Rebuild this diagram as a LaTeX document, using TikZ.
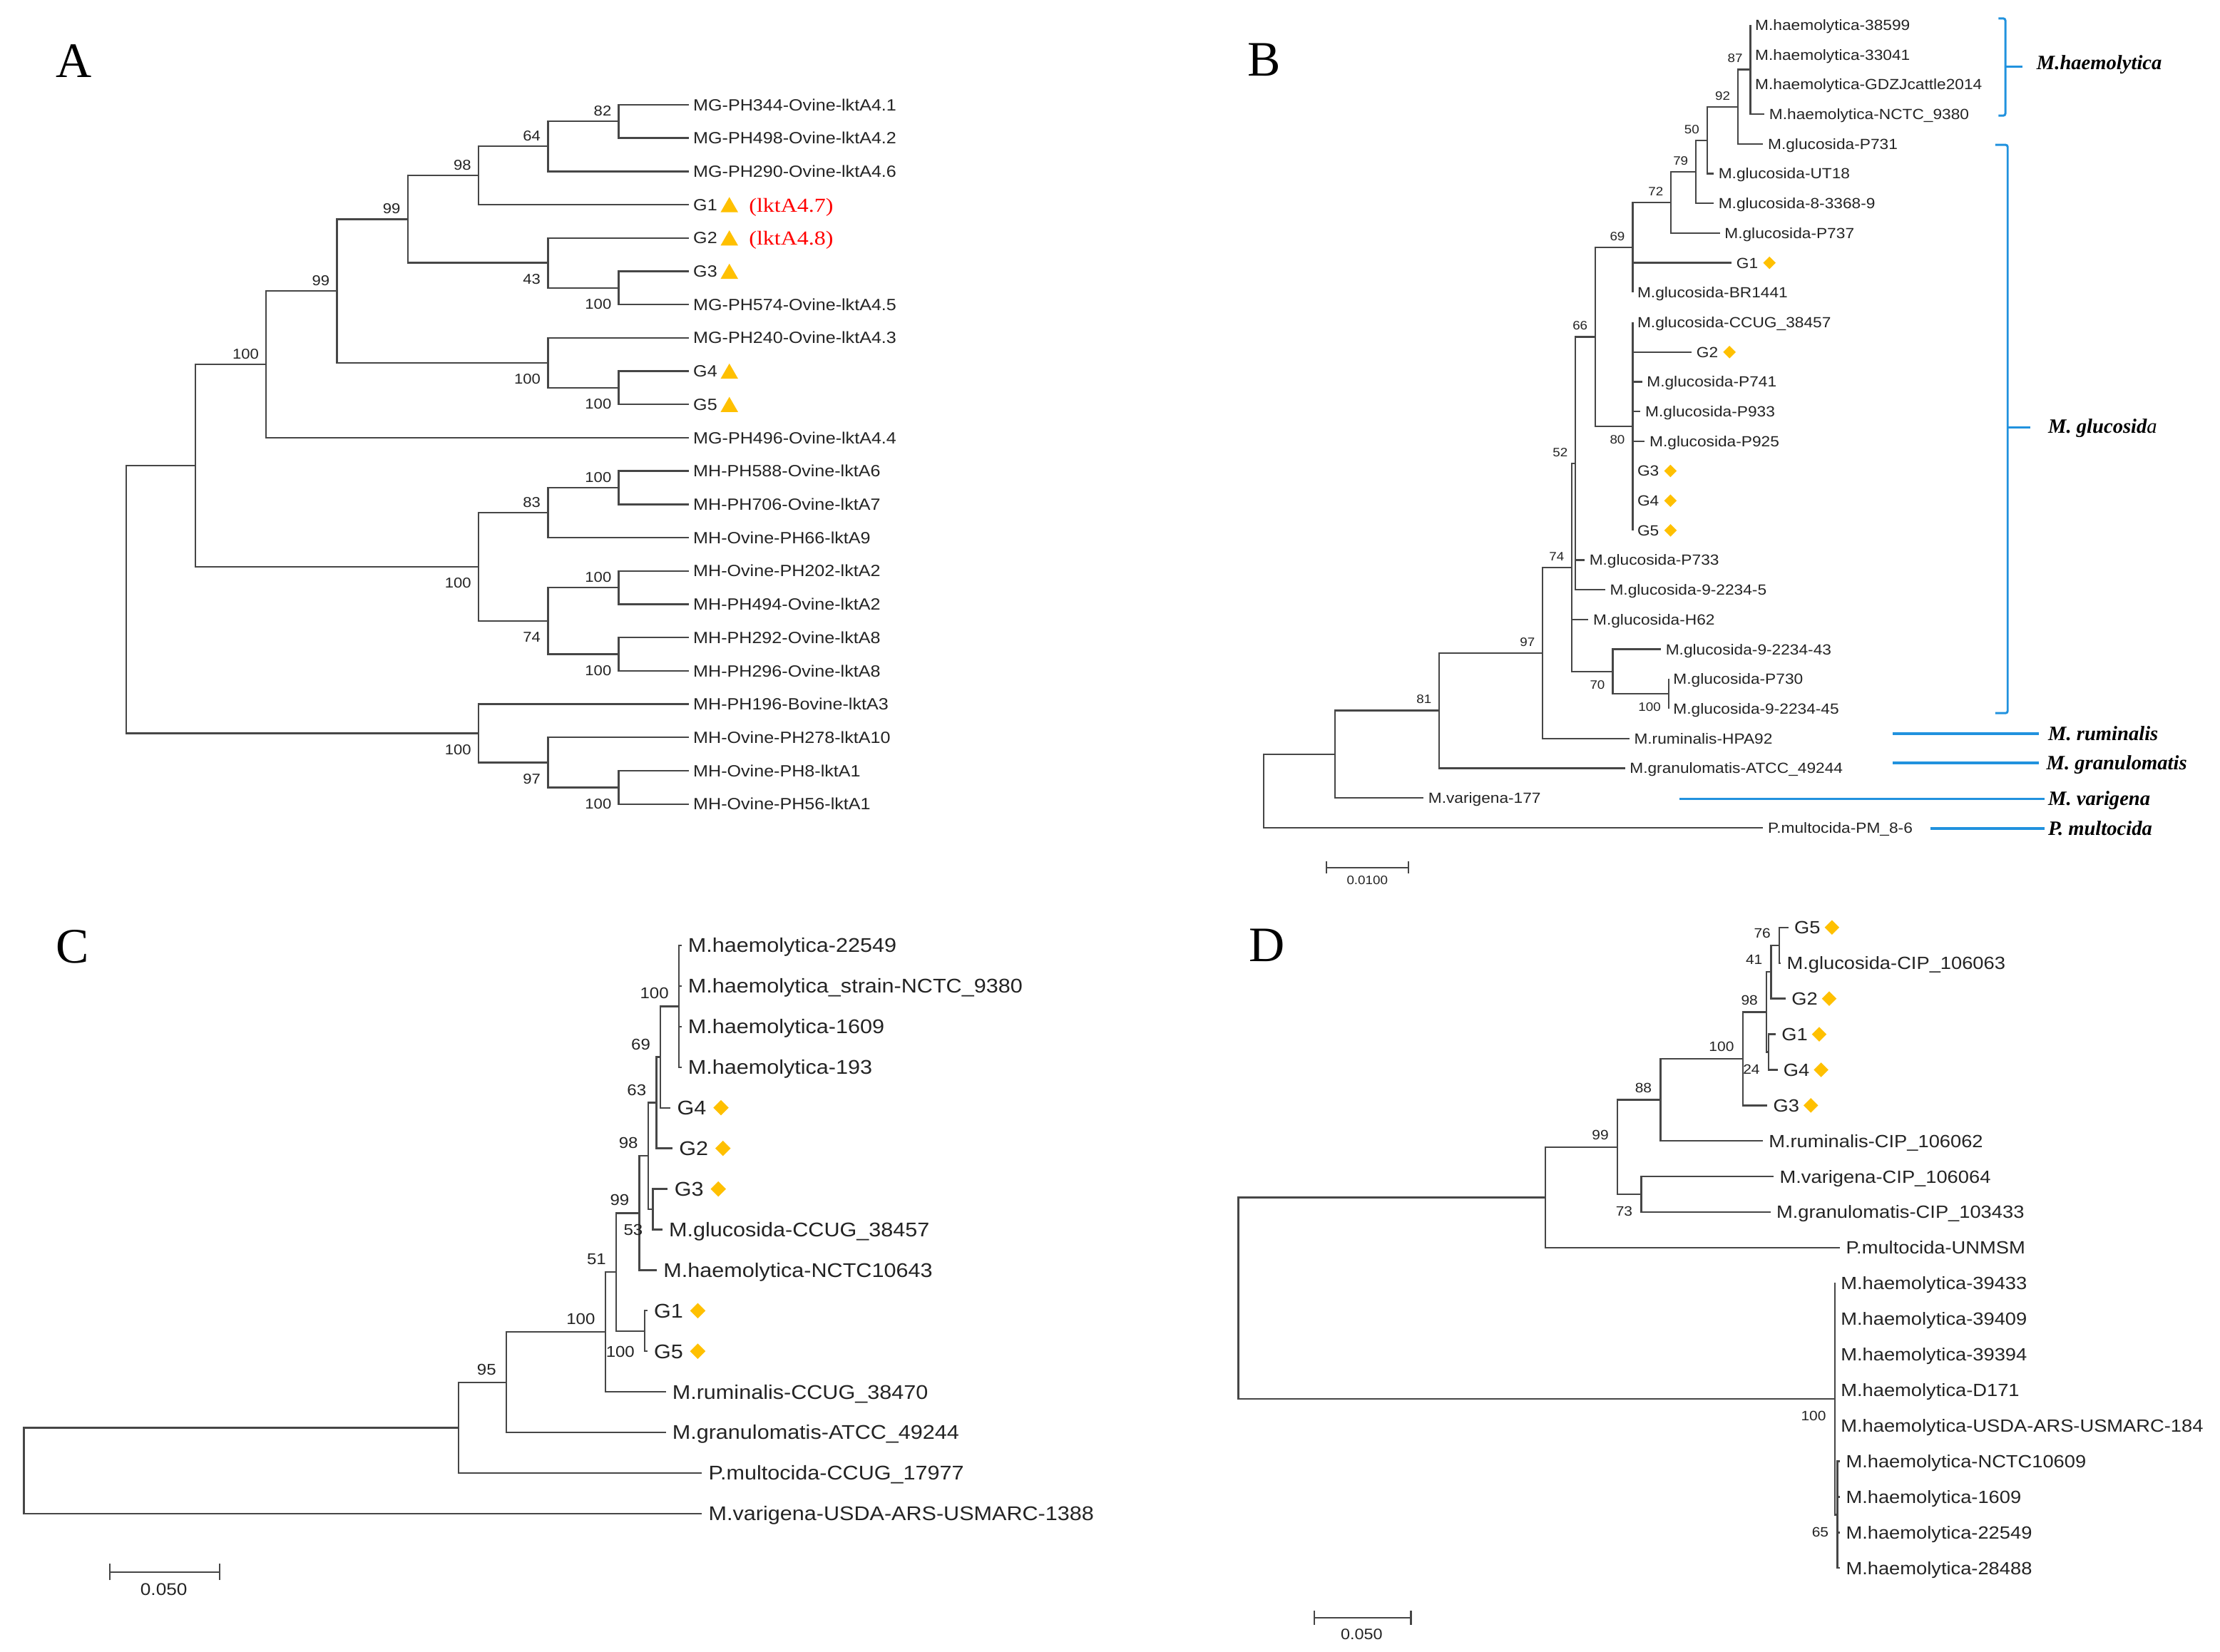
\documentclass[tikz,border=0pt]{standalone}
\usepackage{fontspec}
\setmainfont{Liberation Serif}
\newfontfamily\treefont[FakeStretch=1.1]{Liberation Sans}
\newfontfamily\tagfont[FakeStretch=1.15]{Liberation Serif}
\usetikzlibrary{positioning,shapes.geometric,arrows.meta}

\definecolor{branch}{RGB}{70,70,70}
\definecolor{ink}{RGB}{35,35,35}
\definecolor{gold}{RGB}{255,192,0}
\definecolor{cladeblue}{RGB}{33,146,222}
\newcommand{\fsz}[1]{\fontsize{#1}{#1}\selectfont}

\tikzset{
    br/.style={draw=branch, line width=1.2pt},
    tiplbl/.style={anchor=west, text=ink, inner ysep=0pt, text depth=0pt},
    tipA/.style={tiplbl, font=\treefont\fsz{11.5}, inner xsep=3pt, text height=8.2pt},
    tipB/.style={tiplbl, font=\treefont\fsz{10.4}, inner xsep=3.2pt, text height=7.4pt},
    tipC/.style={tiplbl, font=\treefont\fsz{14}, inner xsep=4.5pt, text height=10pt},
    tipD/.style={tiplbl, font=\treefont\fsz{12.5}, inner xsep=4pt, text height=8.95pt},
    boot/.style={anchor=base east, text=ink, inner sep=0pt},
    Ahi/.style={boot, font=\treefont\fsz{10.1}, xshift=-5pt, yshift=3.9pt},
    Alo/.style={boot, font=\treefont\fsz{10.1}, xshift=-5pt, yshift=-15.1pt},
    Bhi/.style={boot, font=\treefont\fsz{8.6}, xshift=-5.3pt, yshift=4.9pt},
    Blo/.style={boot, font=\treefont\fsz{8.6}, xshift=-5.3pt, yshift=-12.4pt},
    Chi/.style={boot, font=\treefont\fsz{11}, xshift=-7pt, yshift=5.25pt},
    Clo/.style={boot, font=\treefont\fsz{11}, xshift=-7pt, yshift=-18.45pt},
    Dhi/.style={boot, font=\treefont\fsz{9.6}, xshift=-6pt, yshift=5.15pt},
    Dlo/.style={boot, font=\treefont\fsz{9.6}, xshift=-6pt, yshift=-15.45pt},
    tri/.style={regular polygon, regular polygon sides=3, fill=gold, inner sep=0pt, minimum size=14.3pt, yshift=-1.8pt},
    gem/.style={diamond, fill=gold, inner sep=0pt, minimum width=#1, minimum height=#1},
    redtag/.style={font=\tagfont\fsz{14}, text=red, inner sep=0pt},
    panelmark/.style={font=\fsz{35}, inner sep=0pt},
    species/.style={anchor=west, font=\bfseries\itshape\fsz{14.4}, inner ysep=0pt, text height=9.5pt, text depth=0pt},
    clade/.style={draw=cladeblue, line width=1.5pt},
    cladeline/.style={draw=cladeblue, line width=1.9pt},
    scalebar/.style={br, {Bar[width=#1]}-{Bar[width=#1]}},
    scaletext/.style={text=ink, inner sep=0pt}
}

\begin{document}
\begin{tikzpicture}[x=1pt, y=-1pt]
    \useasboundingbox (0,0) rectangle (1568,1167);

    \node[panelmark] (pA) at (52,43) {A};
    \node[panelmark] (pB) at (893,42) {B};
    \node[panelmark] (pC) at (51,669) {C};
    \node[panelmark] (pD) at (895,668) {D};

    \foreach \id/\lbl in {1/MG-PH344-Ovine-lktA4.1, 2/MG-PH498-Ovine-lktA4.2, 3/MG-PH290-Ovine-lktA4.6,
            4/G1, 5/G2, 6/G3, 7/MG-PH574-Ovine-lktA4.5, 8/MG-PH240-Ovine-lktA4.3, 9/G4, 10/G5,
            11/MG-PH496-Ovine-lktA4.4, 12/MH-PH588-Ovine-lktA6, 13/MH-PH706-Ovine-lktA7,
            14/MH-Ovine-PH66-lktA9, 15/MH-Ovine-PH202-lktA2, 16/MH-PH494-Ovine-lktA2,
            17/MH-PH292-Ovine-lktA8, 18/MH-PH296-Ovine-lktA8, 19/MH-PH196-Bovine-lktA3,
            20/MH-Ovine-PH278-lktA10, 21/MH-Ovine-PH8-lktA1, 22/MH-Ovine-PH56-lktA1}
        \node[tipA] (a\id) at (486.5,{74+23.524*(\id-1)}) {\lbl};

    \coordinate (naroot) at (89,423.45);
    \coordinate (na1) at (138,328.9);
    \coordinate (na100d) at (188,257.4);
    \coordinate (na99l) at (238,205.6);
    \coordinate (na99u) at (288,154.85);
    \coordinate (na98) at (338,124.0);
    \coordinate (na64) at (387,103.4);
    \coordinate (na82) at (437,85.75);
    \coordinate (na43) at (387,185.7);
    \coordinate (na100a) at (437,203.35);
    \coordinate (na100c) at (387,256.3);
    \coordinate (na100b) at (437,273.95);
    \coordinate (na100h) at (338,400.4);
    \coordinate (na83) at (387,362.2);
    \coordinate (na100e) at (437,344.55);
    \coordinate (na74) at (387,438.6);
    \coordinate (na100f) at (437,415.1);
    \coordinate (na100g) at (437,462.15);
    \coordinate (na100j) at (338,518.0);
    \coordinate (na97) at (387,538.6);
    \coordinate (na100i) at (437,556.25);

    \foreach \pa/\ch in {naroot/na1, naroot/na100j, na1/na100d, na1/na100h,
            na100d/na99l, na100d/a11.west, na99l/na99u, na99l/na100c,
            na99u/na98, na99u/na43, na98/na64, na98/a4.west, na64/na82, na64/a3.west,
            na82/a1.west, na82/a2.west, na43/a5.west, na43/na100a,
            na100a/a6.west, na100a/a7.west, na100c/a8.west, na100c/na100b,
            na100b/a9.west, na100b/a10.west, na100h/na83, na100h/na74,
            na83/na100e, na83/a14.west, na100e/a12.west, na100e/a13.west,
            na74/na100f, na74/na100g, na100f/a15.west, na100f/a16.west,
            na100g/a17.west, na100g/a18.west, na100j/a19.west, na100j/na97,
            na97/a20.west, na97/na100i, na100i/a21.west, na100i/a22.west}
        \draw[br] (\pa) |- (\ch);

    \foreach \pa/\val/\sty in {na82/82/Ahi, na64/64/Ahi, na98/98/Ahi, na99u/99/Ahi, na99l/99/Ahi,
            na100d/100/Ahi, na43/43/Alo, na100a/100/Alo, na100c/100/Alo, na100b/100/Alo,
            na83/83/Ahi, na100e/100/Ahi, na100h/100/Alo, na74/74/Alo, na100f/100/Ahi,
            na100g/100/Alo, na100j/100/Alo, na97/97/Alo, na100i/100/Alo}
        \node[\sty] (s\pa) at (\pa) {\val};

    \foreach \gname in {a4,a5,a6,a9,a10}
        \node[tri, right=1pt of \gname] (\gname t) {};
    \node[redtag, right=9.4pt of a4t] (a4r) {(lktA4.7)};
    \node[redtag, right=9.4pt of a5t] (a5r) {(lktA4.8)};

    \foreach \id/\xx/\lbl in {1/1236.3/M.haemolytica-38599, 2/1236.3/M.haemolytica-33041,
            3/1236.3/M.haemolytica-GDZJcattle2014, 4/1246.2/M.haemolytica-NCTC\_9380,
            5/1245.3/M.glucosida-P731, 6/1210.4/M.glucosida-UT18, 7/1210.4/M.glucosida-8-3368-9,
            8/1214.7/M.glucosida-P737, 9/1223/G1, 10/1153.1/M.glucosida-BR1441,
            11/1153.1/M.glucosida-CCUG\_38457, 12/1194.8/G2, 13/1159.8/M.glucosida-P741,
            14/1158.7/M.glucosida-P933, 15/1161.7/M.glucosida-P925, 16/1153.1/G3, 17/1153.1/G4,
            18/1153.1/G5, 19/1119.2/M.glucosida-P733, 20/1133.7/M.glucosida-9-2234-5,
            21/1121.9/M.glucosida-H62, 22/1173.1/M.glucosida-9-2234-43, 23/1178.5/M.glucosida-P730,
            24/1178.5/M.glucosida-9-2234-45, 25/1150.8/M.ruminalis-HPA92,
            26/1147.7/M.granulomatis-ATCC\_49244, 27/1005.4/M.varigena-177, 28/1245.3/P.multocida-PM\_8-6}
        \node[tipB] (b\id) at (\xx,{17.7+21*(\id-1)}) {\lbl};

    \coordinate (nbroot) at (892.5,558.8);
    \coordinate (nbv) at (942.9,532.85);
    \coordinate (nb81) at (1016.5,502.0);
    \coordinate (nb97) at (1089.6,461.3);
    \coordinate (nb74) at (1110.2,400.9);
    \coordinate (nb70) at (1139,474.45);
    \coordinate (nb100) at (1178.5,490.2);
    \coordinate (nb52) at (1112.8,327.4);
    \coordinate (nb66) at (1126.8,238.05);
    \coordinate (nb80) at (1153.1,301.2);
    \coordinate (nb69) at (1153.1,174.9);
    \coordinate (nb72) at (1180.2,143.05);
    \coordinate (nb79) at (1197.8,121.4);
    \coordinate (nb50) at (1205.7,99.1);
    \coordinate (nb92) at (1227.5,75.45);
    \coordinate (nb87) at (1236.3,49.2);

    \foreach \pa/\ch in {nbroot/nbv, nbroot/b28.west, nbv/nb81, nbv/b27.west,
            nb81/nb97, nb81/b26.west, nb97/nb74, nb97/b25.west,
            nb74/nb52, nb74/b21.west, nb74/nb70, nb70/b22.west, nb70/nb100,
            nb100/b23.west, nb100/b24.west, nb52/nb66, nb52/b19.west, nb52/b20.west,
            nb66/nb69, nb66/nb80, nb80/b11.west, nb80/b12.west, nb80/b13.west, nb80/b14.west,
            nb80/b15.west, nb80/b16.west, nb80/b17.west, nb80/b18.west,
            nb69/nb72, nb69/b9.west, nb69/b10.west, nb72/nb79, nb72/b8.west,
            nb79/nb50, nb79/b7.west, nb50/nb92, nb50/b6.west, nb92/nb87, nb92/b5.west,
            nb87/b1.west, nb87/b2.west, nb87/b3.west, nb87/b4.west}
        \draw[br] (\pa) |- (\ch);

    \foreach \pa/\val/\sty in {nb87/87/Bhi, nb92/92/Bhi, nb50/50/Bhi, nb79/79/Bhi, nb72/72/Bhi,
            nb69/69/Bhi, nb66/66/Bhi, nb80/80/Blo, nb52/52/Bhi, nb74/74/Bhi,
            nb70/70/Blo, nb100/100/Blo, nb97/97/Bhi, nb81/81/Bhi}
        \node[\sty] (s\pa) at (\pa) {\val};

    \foreach \gname in {b9,b12,b16,b17,b18}
        \node[gem=9pt, right=0pt of \gname] (\gname g) {};

    \draw[clade, rounded corners=1.5pt] (1411.5,13) -| (1416.4,81.7) -- (1411.5,81.7);
    \coordinate (mhb) at (1416.4,47);
    \node[species, inner xsep=10pt] (mh) at (1428.3,44.5) {M.haemolytica};
    \draw[clade] (mhb) -- (mhb -| mh.west);

    \draw[clade, rounded corners=1.5pt] (1409.3,102.3) -| (1418,503.8) -- (1409.3,503.8);
    \coordinate (mgb) at (1418,301.8);
    \node[species, inner xsep=12.3pt] (mg) at (1434.2,301) {M. glucosid\textmd{a}};
    \draw[clade] (mgb) -- (mgb -| mg.west);

    \coordinate (mrl) at (1337,518.4);
    \node[species, inner xsep=6.6pt] (mr) at (1439.9,518.4) {M. ruminalis};
    \draw[cladeline] (mrl) -- (mr.west);
    \coordinate (mgrl) at (1337,538.9);
    \node[species, inner xsep=5.3pt] (mgr) at (1439.9,538.9) {M. granulomatis};
    \draw[cladeline] (mgrl) -- (mgr.west);
    \coordinate (mvl) at (1186,564.4);
    \node[species, inner xsep=2.2pt] (mv) at (1444.3,564.4) {M. varigena};
    \draw[cladeline] (mvl) -- (mv.west);
    \coordinate (pml) at (1363.3,585.3);
    \node[species, inner xsep=2.2pt] (pm) at (1444.3,585.3) {P. multocida};
    \draw[cladeline] (pml) -- (pm.west);

    \coordinate (sbB1) at (936.3,612.9);
    \coordinate (sbB2) at (995.5,612.9);
    \draw[scalebar=8.4pt] (sbB1) -- (sbB2);
    \node[scaletext, font=\treefont\fsz{8.6}] (sbBt) at (965.7,621.8) {0.0100};

    \foreach \id/\xx/\lbl in {1/481.3/M.haemolytica-22549, 2/481.3/M.haemolytica\_strain-NCTC\_9380,
            3/481.3/M.haemolytica-1609, 4/481.3/M.haemolytica-193, 5/473.6/G4, 6/475/G2, 7/471.7/G3,
            8/467.8/M.glucosida-CCUG\_38457, 9/463.9/M.haemolytica-NCTC10643, 10/457.2/G1, 11/457.2/G5,
            12/470.2/M.ruminalis-CCUG\_38470, 13/470.2/M.granulomatis-ATCC\_49244,
            14/495.8/P.multocida-CCUG\_17977, 15/495.8/M.varigena-USDA-ARS-USMARC-1388}
        \node[tipC] (c\id) at (\xx,{667.9+28.67*(\id-1)}) {\lbl};

    \coordinate (ncroot) at (16.9,1038.9);
    \coordinate (ncn) at (323.9,1008.55);
    \coordinate (nc95) at (357.6,976.5);
    \coordinate (nc100) at (427.5,940.95);
    \coordinate (nc51) at (435.2,898.6);
    \coordinate (nc100g) at (455.4,940.25);
    \coordinate (nc99) at (451.6,856.95);
    \coordinate (nc98) at (457.8,816.6);
    \coordinate (nc53) at (461.2,854.25);
    \coordinate (nc63) at (463.6,779.0);
    \coordinate (nc69) at (466.5,746.75);
    \coordinate (nc100t) at (479.5,710.9);

    \foreach \pa/\ch in {ncroot/ncn, ncroot/c15.west, ncn/nc95, ncn/c14.west,
            nc95/nc100, nc95/c13.west, nc100/nc51, nc100/c12.west, nc51/nc99, nc51/nc100g,
            nc100g/c10.west, nc100g/c11.west, nc99/nc98, nc99/c9.west, nc98/nc63, nc98/nc53,
            nc53/c7.west, nc53/c8.west, nc63/nc69, nc63/c6.west, nc69/nc100t, nc69/c5.west,
            nc100t/c1.west, nc100t/c2.west, nc100t/c3.west, nc100t/c4.west}
        \draw[br] (\pa) |- (\ch);

    \foreach \pa/\val/\sty in {nc100t/100/Chi, nc69/69/Chi, nc63/63/Chi, nc98/98/Chi, nc53/53/Clo,
            nc99/99/Chi, nc51/51/Chi, nc100g/100/Clo, nc100/100/Chi, nc95/95/Chi}
        \node[\sty] (s\pa) at (\pa) {\val};

    \foreach \gname in {c5,c6,c7,c10,c11}
        \node[gem=11pt, right=0pt of \gname] (\gname g) {};

    \coordinate (sbC1) at (77.1,1110.6);
    \coordinate (sbC2) at (155.7,1110.6);
    \draw[scalebar=11.6pt] (sbC1) -- (sbC2);
    \node[scaletext, font=\treefont\fsz{12}] (sbCt) at (115.7,1123.1) {0.050};

    \foreach \id/\xx/\lbl in {1/1263.2/G5, 2/1257.8/M.glucosida-CIP\_106063, 3/1261.3/G2, 4/1254.2/G1,
            5/1255.5/G4, 6/1248.3/G3, 7/1245.1/M.ruminalis-CIP\_106062, 8/1252.8/M.varigena-CIP\_106064,
            9/1250.5/M.granulomatis-CIP\_103433, 10/1299.6/P.multocida-UNMSM,
            11/1296/M.haemolytica-39433, 12/1296/M.haemolytica-39409, 13/1296/M.haemolytica-39394,
            14/1296/M.haemolytica-D171, 15/1296/M.haemolytica-USDA-ARS-USMARC-184,
            16/1299.6/M.haemolytica-NCTC10609, 17/1299.6/M.haemolytica-1609,
            18/1299.6/M.haemolytica-22549, 19/1299.6/M.haemolytica-28488}
        \node[tipD] (d\id) at (\xx,{655.2+25.14*(\id-1)}) {\lbl};

    \coordinate (ndroot) at (874.6,917.1);
    \coordinate (ndn) at (1091.6,845.9);
    \coordinate (nd99) at (1142.4,810.35);
    \coordinate (nd73) at (1159.2,843.75);
    \coordinate (nd88) at (1172.8,776.95);
    \coordinate (nd100) at (1230.9,747.9);
    \coordinate (nd98) at (1247.7,714.9);
    \coordinate (nd24) at (1249.1,743.2);
    \coordinate (nd41) at (1251.0,686.6);
    \coordinate (nd76) at (1256.8,667.75);
    \coordinate (ndh) at (1295.9,988.3);
    \coordinate (nd65) at (1297.7,1070.0);

    \foreach \pa/\ch in {ndroot/ndn, ndroot/ndh, ndn/nd99, ndn/d10.west, nd99/nd88, nd99/nd73,
            nd73/d8.west, nd73/d9.west, nd88/nd100, nd88/d7.west, nd100/nd98, nd100/d6.west,
            nd98/nd41, nd98/nd24, nd24/d4.west, nd24/d5.west, nd41/nd76, nd41/d3.west,
            nd76/d1.west, nd76/d2.west, ndh/d11.west, ndh/d12.west, ndh/d13.west, ndh/d14.west,
            ndh/d15.west, ndh/nd65, nd65/d16.west, nd65/d17.west, nd65/d18.west, nd65/d19.west}
        \draw[br] (\pa) |- (\ch);

    \foreach \pa/\val/\sty in {nd76/76/Dhi, nd41/41/Dhi, nd98/98/Dhi, nd24/24/Dlo, nd100/100/Dhi,
            nd88/88/Dhi, nd73/73/Dlo, nd99/99/Dhi, ndh/100/Dlo, nd65/65/Dlo}
        \node[\sty] (s\pa) at (\pa) {\val};

    \foreach \gname in {d1,d3,d4,d5,d6}
        \node[gem=10.5pt, right=-1.5pt of \gname] (\gname g) {};

    \coordinate (sbD1) at (927.7,1142.9);
    \coordinate (sbD2) at (997.1,1142.9);
    \draw[scalebar=9.8pt] (sbD1) -- (sbD2);
    \node[scaletext, font=\treefont\fsz{10.7}] (sbDt) at (961.7,1154.5) {0.050};
\end{tikzpicture}
\end{document}
